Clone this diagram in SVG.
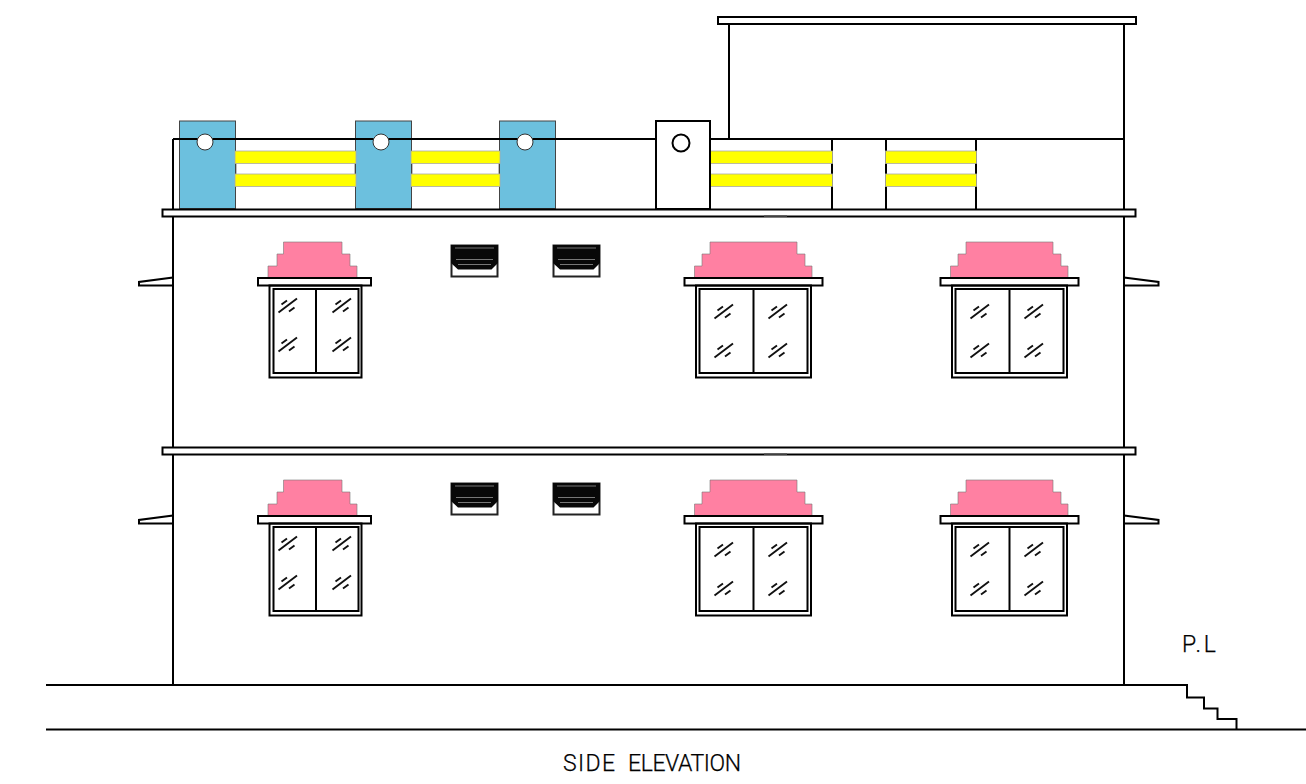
<svg xmlns="http://www.w3.org/2000/svg" xmlns:xlink="http://www.w3.org/1999/xlink" width="1306" height="784" viewBox="0 0 1306 784">
<style>
.l{fill:none;stroke:#000;stroke-width:2}
.w{fill:#fff;stroke:#000;stroke-width:2}
.pink{fill:#ff80a2;stroke:#777;stroke-width:.6}
.blue{fill:#6cc0de;stroke:#444;stroke-width:1}
.yel{fill:#ffff00;stroke:#aaa;stroke-width:.8}
.hole{fill:#fff;stroke:#333;stroke-width:1}
.lbl{font-family:"Roboto","Liberation Sans",Arial,sans-serif;font-weight:300;font-size:23px;fill:#000;stroke:#000;stroke-width:.25;white-space:pre}
</style>
<defs>
<g id="hatch">
<path d="M-9.500 6.500L9 -7.500M-6.500 -1.500L-1 -5.500M1 5.500L6.500 1.500" fill="none" stroke="#111" stroke-width="1.900"/>
</g>
<g id="winN">
<path class="pink" d="M268 278V266H277V254H283.500V242H342V254H350V266H357V278Z"/>
<rect class="w" x="258" y="278" width="113" height="7.500"/>
<rect class="l" x="269.500" y="285.500" width="92" height="92"/>
<rect class="l" x="273.500" y="289" width="85" height="84"/>
<path class="l" d="M316 289V373"/>
<use xlink:href="#hatch" x="288" y="306"/>
<use xlink:href="#hatch" x="342" y="306"/>
<use xlink:href="#hatch" x="288" y="345"/>
<use xlink:href="#hatch" x="342" y="345"/>
</g>
<g id="winW">
<path class="pink" d="M694.500 278V266H702V254H710V242H797V254H805V266H812V278Z"/>
<rect class="w" x="684.500" y="278" width="138" height="7.500"/>
<rect class="l" x="696" y="285.500" width="115" height="92"/>
<rect class="l" x="699.500" y="289" width="108" height="84"/>
<path class="l" d="M753.500 289V373"/>
<use xlink:href="#hatch" x="724" y="312"/>
<use xlink:href="#hatch" x="778" y="312"/>
<use xlink:href="#hatch" x="724" y="351"/>
<use xlink:href="#hatch" x="778" y="351"/>
</g>
<g id="vent">
<rect x="451.500" y="245.500" width="46" height="31" fill="#fff" stroke="#222" stroke-width="2"/>
<path d="M451 245H498V263L491.500 269.500H458L451 263Z" fill="#080808"/>
<path d="M455 248H494M456 259.500H493M458 264.500H491" stroke="#777" stroke-width="1.200" fill="none"/>
</g>
<rect id="pier" class="blue" x="179.500" y="121" width="56" height="87.500"/>
<path id="brR" class="w" d="M1124 277.500L1158.500 282V285.500H1124Z"/>
<path id="brL" class="w" d="M173 277.500L139 282V285.500H173Z"/>
</defs>

<g id="building-walls">
<path class="l" d="M173 139V685M1124 24V685M729 24V139"/>
<path class="l" d="M710 139H1124"/>
<path class="l" d="M832 139V209M886 139V209M976 139V209"/>
<path d="M235.500 163V174M355.500 163V174M411.500 163V174M499.500 163V174M710 163V174" stroke="#000" stroke-width="1.500" fill="none"/>
</g>

<g id="pier-1"><use xlink:href="#pier"/></g>
<g id="pier-2"><use xlink:href="#pier" x="176"/></g>
<g id="pier-3"><use xlink:href="#pier" x="320"/></g>
<path class="l" d="M173 139H656"/>
<g id="pier-holes">
<circle class="hole" cx="205" cy="142" r="8"/>
<circle class="hole" cx="381" cy="142" r="8"/>
<circle class="hole" cx="525" cy="142" r="8"/>
</g>

<g id="rail-1"><rect class="yel" x="235" y="151" width="121" height="12.500"/><rect class="yel" x="235" y="174" width="121" height="12.500"/></g>
<g id="rail-2"><rect class="yel" x="411" y="151" width="89" height="12.500"/><rect class="yel" x="411" y="174" width="89" height="12.500"/></g>
<g id="rail-3"><rect class="yel" x="709.500" y="151" width="123" height="12.500"/><rect class="yel" x="709.500" y="174" width="123" height="12.500"/></g>
<g id="rail-4"><rect class="yel" x="885.500" y="151" width="91" height="12.500"/><rect class="yel" x="885.500" y="174" width="91" height="12.500"/></g>

<g id="stair-head-box">
<rect class="w" x="656" y="121" width="54" height="88"/>
<circle class="w" cx="681" cy="143" r="8.500"/>
</g>

<g id="penthouse-slab"><rect class="w" x="718" y="17" width="418" height="7"/></g>
<g id="roof-slab"><rect class="w" x="162.500" y="209.500" width="973" height="7"/><path d="M764 216H787" stroke="#555" stroke-width="1.500"/></g>
<g id="floor-slab"><rect class="w" x="162.500" y="447.500" width="973" height="7"/><path d="M764 454H787" stroke="#555" stroke-width="1.500"/></g>

<g id="brackets">
<use xlink:href="#brL"/><use xlink:href="#brR"/>
<use xlink:href="#brL" y="238"/><use xlink:href="#brR" y="238"/>
</g>

<g id="win-u1"><use xlink:href="#winN"/></g>
<g id="win-u2"><use xlink:href="#winW"/></g>
<g id="win-u3"><use xlink:href="#winW" x="256"/></g>
<g id="win-l1"><use xlink:href="#winN" y="238"/></g>
<g id="win-l2"><use xlink:href="#winW" y="238"/></g>
<g id="win-l3"><use xlink:href="#winW" x="256" y="238"/></g>

<g id="vent-u1"><use xlink:href="#vent"/></g>
<g id="vent-u2"><use xlink:href="#vent" x="102"/></g>
<g id="vent-l1"><use xlink:href="#vent" y="238"/></g>
<g id="vent-l2"><use xlink:href="#vent" x="102" y="238"/></g>

<g id="ground">
<path class="l" d="M46 685H1187V697.500H1204V708.500H1217.500V719H1236.500V729.500"/>
<path class="l" d="M46 729.500H1306"/>
</g>

<text class="lbl" x="1182" y="652" textLength="34" lengthAdjust="spacing">P.L</text>
<text class="lbl" y="771"><tspan x="563" textLength="52" lengthAdjust="spacing">SIDE</tspan>  <tspan x="628" textLength="113" lengthAdjust="spacing">ELEVATION</tspan></text>
</svg>
